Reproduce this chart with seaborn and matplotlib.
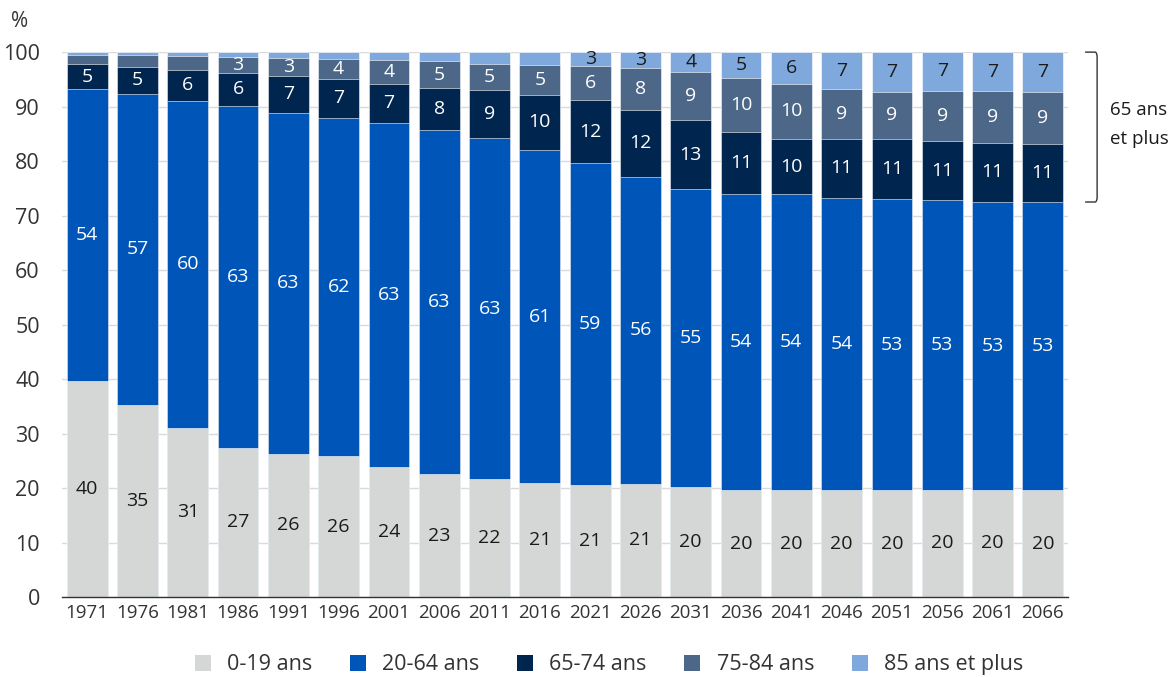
import numpy as np
import matplotlib
matplotlib.use("Agg")
import matplotlib.pyplot as plt
from matplotlib.patches import Patch
import seaborn as sns

# données (% de la population par groupe d'âge)
years = ['1971', '1976', '1981', '1986', '1991', '1996', '2001', '2006', '2011', '2016',
         '2021', '2026', '2031', '2036', '2041', '2046', '2051', '2056', '2061', '2066']
age_0_19 = [39.6, 35.3, 31.1, 27.4, 26.3, 25.9, 23.9, 22.6, 21.6, 20.9,
            20.6, 20.8, 20.2, 19.6, 19.6, 19.6, 19.6, 19.7, 19.7, 19.6]
age_20_64 = [53.6, 57.0, 60.0, 62.7, 62.6, 62.0, 63.1, 63.2, 62.6, 61.1,
             59.0, 56.3, 54.7, 54.4, 54.3, 53.7, 53.4, 53.1, 52.8, 52.9]
age_65_74 = [4.6, 5.0, 5.7, 6.1, 6.7, 7.2, 7.2, 7.6, 8.8, 10.2,
             11.6, 12.3, 12.6, 11.4, 10.2, 10.7, 11.1, 10.9, 10.9, 10.7]
age_75_84 = [1.6, 2.1, 2.4, 2.9, 3.3, 3.6, 4.3, 4.9, 4.9, 5.4,
             6.2, 7.6, 8.8, 9.9, 10.1, 9.2, 8.6, 9.2, 9.4, 9.4]
age_85_plus = [0.6, 0.6, 0.8, 0.9, 1.1, 1.3, 1.5, 1.7, 2.1, 2.4,
               2.6, 3.0, 3.7, 4.7, 5.8, 6.8, 7.3, 7.1, 7.2, 7.4]

groups = ['0-19 ans', '20-64 ans', '65-74 ans', '75-84 ans', '85 ans et plus']
series = [age_0_19, age_20_64, age_65_74, age_75_84, age_85_plus]
colors = ['#d5d7d6', '#0055b8', '#00264f', '#4c6787', '#7fa9dc']
label_colors = ['#1a1a1a', 'white', 'white', 'white', '#1a1a1a']

sns.set_theme(style="white")
plt.rcParams['font.family'] = ['Open Sans', 'DejaVu Sans']

fig = plt.figure(figsize=(11.71, 6.77), dpi=100)
ax = fig.add_axes([0.053, 0.118, 0.859, 0.805])

vals = np.array(series)
cum = np.cumsum(vals, axis=0)

# barres empilées : on dessine les cumuls du haut vers le bas
for i in range(len(groups) - 1, -1, -1):
    sns.barplot(x=years, y=cum[i], color=colors[i], saturation=1, width=0.81,
                edgecolor='white', linewidth=0.4, ax=ax, zorder=2)

# étiquettes des segments
for i in range(len(groups)):
    for j in range(len(years)):
        v = vals[i, j]
        if round(v) >= 3:
            yc = cum[i, j] - v / 2
            ax.text(j, yc, f"{v:.0f}", ha='center', va='center', fontsize=14,
                    color=label_colors[i], zorder=5, clip_on=False)

ax.set_ylim(0, 100)
ax.set_xlim(-0.5, len(years) - 0.5)
ax.set_yticks(np.arange(0, 101, 10))
ax.yaxis.grid(True, color='#dadada', linewidth=1, zorder=0)
ax.set_axisbelow(True)
ax.set_xlabel('')
ax.set_ylabel('')
for s in ['top', 'right', 'left']:
    ax.spines[s].set_visible(False)
ax.spines['bottom'].set_color('#333333')
ax.spines['bottom'].set_linewidth(1)
ax.tick_params(axis='y', length=0, labelsize=15.5, labelcolor='#333333', pad=16)
ax.tick_params(axis='x', which='major', length=0, labelsize=13.5, labelcolor='#333333', pad=5)
ax.set_xticks(np.arange(-0.5, len(years), 1), minor=True)
ax.tick_params(axis='x', which='minor', length=6, color='#333333', width=1)

fig.text(0.009, 0.968, '%', fontsize=15, color='#333333', ha='left', va='center')

# accolade "65 ans et plus"
top = 100
bot = 100 - (vals[2, -1] + vals[3, -1] + vals[4, -1])
x0, x1, r = 19.85, 20.08, 0.9
t = np.linspace(0, np.pi / 2, 10)
bx = np.concatenate([[x0], x1 - 0.04 + 0.04 * np.sin(t), x1 - 0.04 + 0.04 * np.cos(t), [x0]])
by = np.concatenate([[top], top - r + r * np.cos(t), bot + r - r * np.sin(t), [bot]])
ax.plot(bx, by, color='#333333', linewidth=1, clip_on=False)
ax.text(20.33, (top + bot) / 2 + 0.5, '65 ans\net plus', ha='left', va='center',
        fontsize=13.5, color='#1a1a1a', linespacing=1.75)

handles = [Patch(facecolor=c, edgecolor='none') for c in colors]
fig.legend(handles, groups, loc='center', bbox_to_anchor=(0.52, 0.018), ncol=5,
           frameon=False, fontsize=15.5, handlelength=0.75, handleheight=0.75,
           columnspacing=1.75, handletextpad=0.75, labelcolor='#333333')

fig.savefig('out.png', dpi=100)
